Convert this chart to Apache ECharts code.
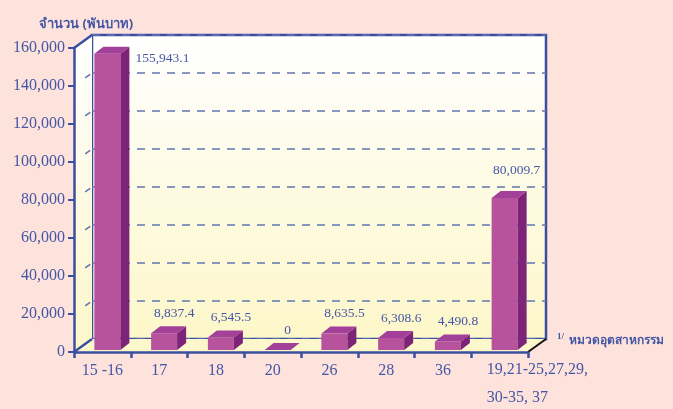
<!DOCTYPE html>
<html>
<head>
<meta charset="utf-8">
<script src="https://cdn.jsdelivr.net/npm/echarts@6/dist/echarts.min.js"></script>
<style>
  html, body { margin: 0; padding: 0; background: #fde3db; }
  #chart { width: 673px; height: 409px; }
</style>
</head>
<body>
<div id="chart"></div>
<script>
// หมวดอุตสาหกรรม
var categories = ['15 -16', '17', '18', '20', '26', '28', '36', '19,21-25,27,29,\n\n30-35, 37'];
// จำนวน (พันบาท)
var values = [155943.1, 8837.4, 6545.5, 0, 8635.5, 6308.6, 4490.8, 80009.7];
var labels = ['155,943.1', '8,837.4', '6,545.5', '0', '8,635.5', '6,308.6', '4,490.8', '80,009.7'];
var yMax = 160000;
var yStep = 20000;

var blue = '#3b4fa1';
var txtBlue = '#4556a6';
var dashBlue = '#6175b0';
var serif = '"Liberation Serif", "Times New Roman", serif';
var thai = '"Noto Sans", "DejaVu Sans", sans-serif';

// ความลึกของกล่อง 3 มิติ
var depthX = 18, depthY = -13;

var wallFill = new echarts.graphic.LinearGradient(0, 0, 0, 1, [
    { offset: 0, color: '#ffffff' },
    { offset: 1, color: '#fdf7c9' }
]);

var myChart = echarts.init(document.getElementById('chart'));

function renderFrame(params, api) {
    var cs = params.coordSys;
    var L = cs.x, T = cs.y, R = cs.x + cs.width, B = cs.y + cs.height;
    var kids = [];
    // ผนังข้าง
    kids.push({
        type: 'polygon',
        shape: { points: [[L, T], [L + depthX, T + depthY], [L + depthX, B + depthY], [L, B]] },
        style: { fill: wallFill }
    });
    // พื้น
    kids.push({
        type: 'polygon',
        shape: { points: [[L, B], [L + depthX, B + depthY], [R + depthX, B + depthY], [R, B]] },
        style: { fill: '#fdf7cc' }
    });
    kids.push({ type: 'line', shape: { x1: L, y1: T, x2: L + depthX, y2: T + depthY }, style: { stroke: blue, lineWidth: 2.5 } });
    kids.push({ type: 'line', shape: { x1: L, y1: B, x2: L + depthX, y2: B + depthY }, style: { stroke: blue, lineWidth: 2.5 } });
    kids.push({ type: 'line', shape: { x1: R, y1: B, x2: R + depthX, y2: B + depthY }, style: { stroke: '#111', lineWidth: 2 } });
    // เส้นประบนผนังข้าง
    for (var v = yStep; v < yMax; v += yStep) {
        var y = api.coord([0, v])[1];
        kids.push({
            type: 'line',
            shape: { x1: L + depthX * 0.62, y1: y + depthY * 0.62, x2: L + depthX * 0.9, y2: y + depthY * 0.9 },
            style: { stroke: dashBlue, lineWidth: 1.5 }
        });
    }
    // ป้ายหมวดสุดท้าย (ชิดซ้าย)
    var last = categories.length - 1;
    var lx = api.coord([last, 0])[0];
    kids.push({
        type: 'text',
        style: {
            x: lx - 13, y: B + 11, text: categories[last], fill: txtBlue,
            font: '16px ' + serif, align: 'left', verticalAlign: 'top', lineHeight: 14
        }
    });
    return { type: 'group', children: kids };
}

function renderBar(params, api) {
    var i = api.value(0);
    var v = api.value(1);
    var base = api.coord([i, 0]);
    var topPt = api.coord([i, v]);
    var bw = 26, dx = 9, dy = -7, lift = 2;
    var cx = base[0] + 5;
    var left = cx - bw / 2, right = cx + bw / 2;
    var bottom = base[1] - lift, top = topPt[1] - lift;
    var kids = [];
    if (bottom - top > 0.5) {
        kids.push({ type: 'rect', shape: { x: left, y: top, width: bw, height: bottom - top }, style: { fill: '#b7529d' } });
        kids.push({
            type: 'polygon',
            shape: { points: [[right, top], [right + dx, top + dy], [right + dx, bottom + dy], [right, bottom]] },
            style: { fill: '#7d2478' }
        });
    }
    kids.push({
        type: 'polygon',
        shape: { points: [[left, top], [left + dx, top + dy], [right + dx, top + dy], [right, top]] },
        style: { fill: '#a3409a' }
    });
    var lbl;
    if (i === 0) {
        lbl = { x: right + 15, y: top + 5, align: 'left' };
    } else if (i === categories.length - 1) {
        lbl = { x: cx + 12, y: top - 28, align: 'center' };
    } else {
        lbl = { x: cx + 10, y: top - 20, align: 'center' };
    }
    kids.push({
        type: 'text',
        style: {
            x: lbl.x, y: lbl.y, text: labels[i], fill: txtBlue,
            font: '13.5px ' + serif, align: lbl.align, verticalAlign: 'middle'
        }
    });
    return { type: 'group', children: kids };
}

var option = {
    backgroundColor: '#fde3db',
    animation: false,
    title: [
        {
            text: 'จำนวน (พันบาท)',
            left: 34, top: 13,
            textStyle: { fontFamily: thai, fontSize: 13, fontWeight: 'bold', color: txtBlue }
        },
        {
            text: '{s|1/} {t|หมวดอุตสาหกรรม}',
            left: 552, top: 327,
            textStyle: {
                rich: {
                    s: { fontFamily: serif, fontSize: 9, color: txtBlue, verticalAlign: 'top', padding: [0, 0, 8, 0] },
                    t: { fontFamily: thai, fontSize: 12, color: txtBlue }
                }
            }
        }
    ],
    grid: [
        { left: 74, right: 145, top: 48, bottom: 57, show: false },
        {
            left: 92, right: 127, top: 35, bottom: 70,
            show: true, backgroundColor: wallFill, borderColor: blue, borderWidth: 2.5
        }
    ],
    xAxis: [
        {
            type: 'category', gridIndex: 0, data: categories, z: 5,
            axisLine: { lineStyle: { color: blue, width: 2.5 } },
            axisTick: { show: true, length: 6, lineStyle: { color: blue, width: 2.5 } },
            axisLabel: {
                color: txtBlue, fontFamily: serif, fontSize: 16, margin: 11,
                formatter: function (val, idx) { return idx === categories.length - 1 ? '' : val; }
            }
        },
        {
            type: 'category', gridIndex: 1, data: categories,
            axisLine: { show: false }, axisTick: { show: false }, axisLabel: { show: false }
        }
    ],
    yAxis: [
        {
            type: 'value', gridIndex: 0, min: 0, max: yMax, interval: yStep, z: 5,
            axisLine: { show: true, lineStyle: { color: blue, width: 2.5 } },
            axisTick: { show: true, length: 6, lineStyle: { color: blue, width: 2 } },
            axisLabel: {
                color: txtBlue, fontFamily: serif, fontSize: 16, margin: 9,
                formatter: function (val) { return val.toLocaleString('en-US'); }
            },
            splitLine: { show: false }
        },
        {
            type: 'value', gridIndex: 1, min: 0, max: yMax, interval: yStep,
            axisLine: { show: false }, axisTick: { show: false }, axisLabel: { show: false },
            splitLine: { show: true, lineStyle: { color: dashBlue, width: 1.5, type: [8, 7] } }
        }
    ],
    series: [
        {
            type: 'custom', name: 'frame', xAxisIndex: 0, yAxisIndex: 0, z: 1,
            data: [[0, 0]], renderItem: renderFrame, silent: true
        },
        {
            type: 'custom', name: 'bars', xAxisIndex: 0, yAxisIndex: 0, z: 3,
            data: values.map(function (v, i) { return [i, v]; }),
            renderItem: renderBar
        }
    ]
};

myChart.setOption(option);
</script>
</body>
</html>
